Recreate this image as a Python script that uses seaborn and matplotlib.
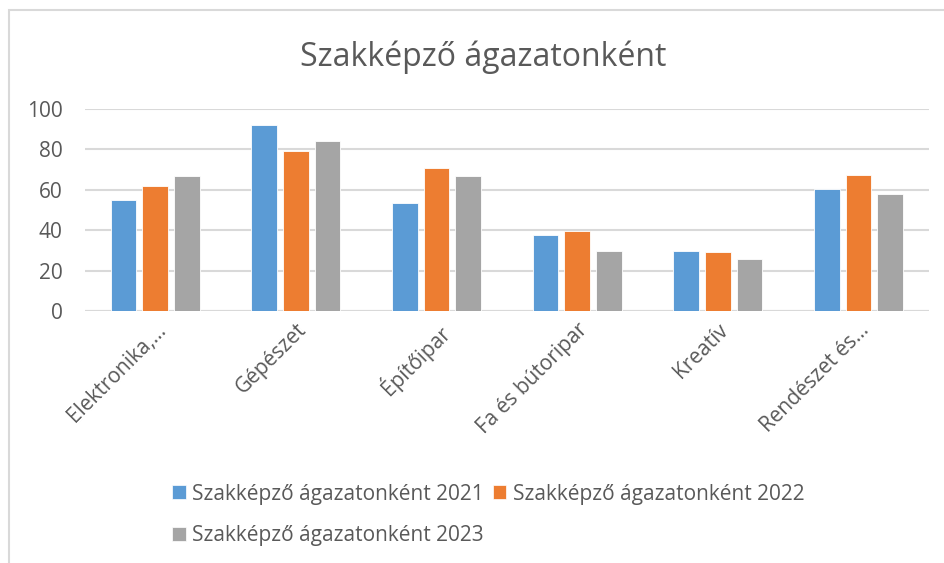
import seaborn as sns
import matplotlib.pyplot as plt
import pandas as pd
from matplotlib.patches import Patch, Rectangle

# ---------------------------
# Data
# ---------------------------
categories = ["Elektronika,...", "Gépészet", "Építőipar",
              "Fa és bútoripar", "Kreatív", "Rendészet és..."]
values_2021 = [55, 92, 53.5, 37.5, 29.5, 60.5]
values_2022 = [62, 79, 71, 39.5, 29, 67.5]
values_2023 = [67, 84, 67, 29.5, 25.5, 58]
series_names = ["Szakképző ágazatonként 2021",
                "Szakképző ágazatonként 2022",
                "Szakképző ágazatonként 2023"]
colors = ["#5B9BD5", "#ED7D31", "#A5A5A5"]

rows = []
for name, vals in zip(series_names, [values_2021, values_2022, values_2023]):
    for cat, v in zip(categories, vals):
        rows.append({"Ágazat": cat, "Sorozat": name, "Érték": v})
df = pd.DataFrame(rows)

# ---------------------------
# Styling
# ---------------------------
sns.set_style("white")
plt.rcParams["font.family"] = ["Open Sans", "DejaVu Sans"]
text_color = "#595959"
grid_color = "#D9D9D9"

fig = plt.figure(figsize=(9.44, 5.63), dpi=100)
ax = fig.add_axes([0.090, 0.4476, 0.894, 0.3588])

sns.barplot(
    data=df, x="Ágazat", y="Érték", hue="Sorozat",
    order=categories, hue_order=series_names, palette=colors,
    width=0.675, gap=0.19, saturation=1, errorbar=None,
    edgecolor="white", linewidth=0.6, ax=ax, zorder=3,
)

ax.set_ylim(0, 100)
ax.set_yticks([0, 20, 40, 60, 80, 100])
ax.yaxis.grid(True, color=grid_color, linewidth=1.5, zorder=0)
ax.set_axisbelow(True)
for side in ["top", "right", "left", "bottom"]:
    ax.spines[side].set_visible(False)
ax.axhline(0, color=grid_color, linewidth=1.5, zorder=1)

ax.set_xlabel("")
ax.set_ylabel("")
ax.tick_params(axis="both", length=0, colors=text_color, labelsize=15)
ax.tick_params(axis="y", pad=16)
ax.tick_params(axis="x", pad=6)
plt.setp(ax.get_xticklabels(), rotation=45, ha="right",
         rotation_mode="anchor", fontsize=15, color=text_color)

fig.text(0.512, 1 - 57 / 563, "Szakképző ágazatonként",
         ha="center", va="center", fontsize=23, color=text_color)

# Legend: row-wise order with two columns
ax.get_legend().remove()
handles = [Patch(facecolor=c, edgecolor="white", linewidth=0.5) for c in colors]
order = [0, 2, 1]
fig.legend([handles[i] for i in order], [series_names[i] for i in order],
           ncol=2, loc="center left", bbox_to_anchor=(172 / 944, 1 - 515 / 563),
           bbox_transform=fig.transFigure, frameon=False, borderpad=0,
           borderaxespad=0, fontsize=15, labelcolor=text_color,
           handlelength=0.65, handleheight=0.65, handletextpad=0.3,
           columnspacing=0.45, labelspacing=1.0)

# Chart area border (only left/top visible in reference)
fig.patches.append(Rectangle((9 / 944, -0.1), 1.2, 1 - 10 / 563 + 0.1,
                             transform=fig.transFigure, fill=False,
                             edgecolor=grid_color, linewidth=1.5))

plt.savefig("out.png", dpi=100)
plt.close()
